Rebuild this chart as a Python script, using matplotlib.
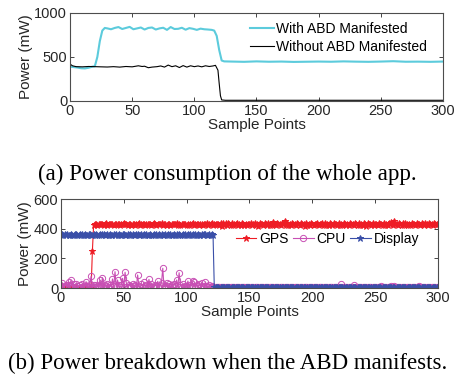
#!/usr/bin/env python
"""Power traces with and without the ABD, plus the per-component breakdown."""

import matplotlib
matplotlib.use("Agg")
import matplotlib.pyplot as plt
import numpy as np

plt.rcParams['font.family'] = ['Liberation Sans', 'DejaVu Sans']

# --- (a) whole app power ---
whole_x = [0, 3, 6, 9, 12, 15, 18, 20, 22, 24, 26, 28, 30, 33, 36, 39, 42, 45, 48,
           51, 54, 57, 60, 63, 66, 69, 72, 75, 78, 81, 84, 87, 90, 93, 96, 99, 102,
           105, 108, 111, 114, 116, 118, 120, 122, 124, 130, 140, 150, 160, 170,
           180, 190, 200, 210, 220, 230, 240, 250, 260, 270, 280, 290, 300]
with_abd = [390, 385, 380, 372, 370, 378, 390, 395, 500, 680, 800, 830, 825, 815,
            830, 840, 818, 830, 842, 815, 825, 835, 812, 830, 835, 812, 825, 832,
            808, 840, 818, 820, 832, 810, 828, 820, 808, 822, 815, 812, 808, 800,
            740, 580, 460, 450, 448, 445, 450, 446, 448, 444, 446, 448, 446, 450,
            447, 445, 448, 452, 446, 447, 445, 448]

without_x = [0, 2, 5, 10, 15, 20, 25, 30, 35, 40, 45, 50, 55, 58, 60, 63, 66, 70,
             73, 76, 79, 82, 85, 88, 91, 94, 97, 100, 103, 106, 109, 112, 115, 117,
             119, 120, 121, 122, 125, 150, 200, 250, 300]
without_abd = [420, 400, 390, 388, 392, 390, 388, 386, 390, 385, 392, 388, 400,
               392, 395, 378, 385, 390, 398, 385, 408, 390, 400, 380, 402, 385,
               400, 390, 398, 388, 400, 392, 398, 405, 350, 200, 60, 12, 8, 8, 8,
               8, 8]

# --- (b) breakdown, one value per sample point (0..300) ---
gps_before = [0] * 25 + [250]
gps_after = [
    428, 432, 430, 426, 434, 431, 429, 433, 427, 430, 435, 428, 431, 429, 433, 430, 426, 432, 434, 429, 431, 427, 433, 430, 436,
    429, 431, 427, 434, 430, 428, 433, 431, 426, 432, 430, 435, 428, 431, 429, 433, 427, 430, 434, 429, 432, 428, 431, 436, 430,
    427, 433, 429, 431, 438, 425, 432, 430, 428, 434, 431, 427, 433, 429, 432, 430, 435, 428, 431, 426, 433, 430, 429, 434, 428,
    431, 427, 433, 430, 436, 428, 432, 429, 431, 426, 434, 430, 428, 433, 431, 438, 424, 432, 429, 435, 427, 431, 433, 429, 430,
    425, 438, 420, 440, 428, 435, 422, 437, 430, 426, 441, 424, 433, 429, 436, 427, 431, 423, 439, 430, 428, 434, 426, 432, 429,
    436, 424, 431, 438, 427, 433, 421, 440, 429, 432, 426, 437, 430, 425, 441, 428, 434, 423, 448, 431, 427, 436, 429, 433, 425,
    438, 430, 452, 422, 436, 428, 433, 426, 440, 429, 431, 424, 437, 430, 427, 435, 429, 433, 421, 439, 428, 432, 426, 436, 430,
    427, 434, 429, 438, 423, 432, 430, 436, 425, 441, 428, 431, 427, 435, 430, 422, 438, 429, 433, 426, 440, 428, 432, 425, 437,
    430, 428, 434, 423, 439, 429, 432, 426, 436, 431, 424, 440, 428, 433, 427, 435, 430, 421, 438, 429, 432, 426, 441, 428, 434,
    430, 425, 437, 429, 433, 422, 440, 428, 431, 427, 436, 430, 448, 424, 452, 429, 433, 426, 438, 430, 428, 435, 423, 439, 431,
    428, 434, 426, 437, 430, 432, 425, 440, 429, 433, 427, 436, 430, 424, 438, 431, 428, 435, 429, 433, 426, 439, 430, 432, 429]

cpu_active = [
    15, 36, 5, 12, 22, 8, 43, 18, 54, 10, 25, 6, 30, 14, 3, 20, 9, 28, 12, 4,
    43, 16, 7, 24, 81, 10, 18, 5, 22, 12, 8, 54, 15, 70, 6, 20, 11, 25, 4, 17,
    9, 61, 13, 110, 7, 54, 19, 5, 23, 65, 10, 106, 34, 8, 21, 14, 4, 26, 11, 18,
    6, 88, 15, 9, 24, 5, 40, 13, 20, 7, 58, 16, 28, 10, 4, 22, 12, 45, 8, 19,
    36, 133, 6, 15, 36, 11, 24, 5, 18, 9, 30, 13, 54, 7, 103, 20, 10, 26, 4, 16,
    12, 47, 8, 22, 14, 50, 43, 6, 19, 11, 25, 9, 36, 15, 5, 40, 12, 8, 18, 6,
    14, 10]
cpu_idle = [
    6, 5, 7, 4, 6, 8, 5, 6, 4, 7, 5, 6, 8, 5, 4, 6, 7, 5, 6, 4,
    5, 7, 6, 4, 5, 8, 6, 5, 10, 6, 4, 7, 5, 6, 5, 8, 4, 6, 7, 5,
    6, 4, 5, 7, 6, 5, 8, 4, 6, 5, 7, 6, 4, 5, 6, 8, 5, 6, 4, 7,
    5, 6, 4, 7, 5, 6, 8, 5, 4, 6, 7, 5, 6, 4, 5, 7, 6, 5, 8, 4,
    6, 5, 7, 4, 6, 5, 8, 6, 4, 5, 7, 6, 5, 4, 6, 8, 5, 7, 6, 5,
    8, 25, 6, 5, 4, 7, 6, 5, 8, 6, 4, 20, 5, 7, 6, 4, 5, 8, 6, 5,
    7, 4, 6, 5, 8, 6, 5, 4, 7, 6, 5, 6, 4, 14, 6, 5, 7, 4, 6, 5,
    8, 12, 6, 15, 5, 7, 4, 6, 5, 8, 6, 4, 7, 5, 6, 5, 8, 4, 6, 5,
    7, 5, 6, 15, 4, 6, 8, 5, 7, 4, 6, 5, 6, 8, 4, 5, 7, 6, 5]

display_on = [
    360, 362, 358, 361, 359, 363, 360, 357, 362, 360, 359, 361, 364, 358, 360, 362, 359, 361, 357, 363, 360, 358, 362, 361, 359,
    360, 363, 358, 361, 360, 357, 362, 359, 361, 364, 358, 360, 362, 359, 361, 360, 356, 363, 359, 361, 358, 362, 360, 359, 361,
    362, 358, 360, 363, 359, 361, 357, 362, 360, 358, 361, 364, 359, 360, 362, 358, 361, 359, 363, 360, 357, 362, 360, 359, 361,
    358, 362, 360, 361, 359, 363, 357, 360, 362, 359, 361, 358, 366, 360, 359, 362, 358, 361, 360, 363, 359, 357, 362, 360, 361,
    359, 362, 358, 361, 360, 363, 357, 362, 359, 361, 360, 358, 362, 359, 361, 364, 358, 360, 362, 359, 361, 360]
display_off = [
    5, 4, 6, 5, 3, 5, 6, 4, 5, 5, 4, 6, 5, 3, 5, 4, 6, 5, 5, 4,
    6, 5, 4, 5, 3, 6, 5, 4, 5, 6, 4, 5, 5, 3, 6, 4, 5, 5, 4, 6,
    5, 4, 6, 5, 3, 5, 6, 4, 5, 5, 4, 6, 5, 3, 5, 4, 6, 5, 5, 4,
    6, 5, 4, 5, 3, 6, 5, 4, 5, 6, 4, 5, 5, 3, 6, 4, 5, 5, 4, 6,
    5, 4, 6, 5, 3, 5, 6, 4, 5, 5, 4, 6, 5, 3, 5, 4, 6, 5, 5, 4,
    6, 5, 4, 5, 3, 6, 5, 4, 5, 6, 4, 5, 5, 3, 6, 4, 5, 5, 4, 6,
    5, 4, 6, 5, 3, 5, 6, 4, 5, 5, 4, 6, 5, 3, 5, 4, 6, 5, 5, 4,
    6, 5, 4, 5, 3, 6, 5, 4, 5, 6, 4, 5, 5, 3, 6, 4, 5, 5, 4, 6,
    5, 4, 6, 5, 3, 5, 6, 4, 5, 5, 4, 6, 5, 3, 5, 4, 6, 5, 5]

gps = np.array(gps_before + gps_after)
cpu = np.array(cpu_active + cpu_idle)
display = np.array(display_on + display_off)
samples = np.arange(len(gps))

AXIS_GREY = '#4d4d4d'
TEXT_GREY = '#262626'


def style_axes(ax, ylim, yticks):
    ax.set_xlim(0, 300)
    ax.set_ylim(*ylim)
    ax.set_xticks([0, 50, 100, 150, 200, 250, 300])
    ax.set_yticks(yticks)
    ax.tick_params(direction='in', top=True, right=True, length=3, width=0.6,
                   labelsize=10.5, colors=TEXT_GREY, pad=2)
    for sp in ax.spines.values():
        sp.set_color(AXIS_GREY)
        sp.set_linewidth(0.8)
    ax.set_xlabel("Sample Points", fontsize=11, color=TEXT_GREY, labelpad=0)
    ax.set_ylabel("Power (mW)", fontsize=11, color=TEXT_GREY, labelpad=1)


fig = plt.figure(figsize=(4.55, 3.75), dpi=100)

ax1 = fig.add_axes([0.1538, 0.7307, 0.8198, 0.2347])
ax1.plot(whole_x, with_abd, color='#5ccbdc', lw=1.5, label="With ABD Manifested")
ax1.plot(without_x, without_abd, color='black', lw=0.8, label="Without ABD Manifested")
style_axes(ax1, (0, 1000), [0, 500, 1000])
ax1.legend(loc='upper left', bbox_to_anchor=(0.46, 0.99), frameon=False, fontsize=10,
           handlelength=1.7, handletextpad=0.2, labelspacing=0.25,
           borderaxespad=0.2)

ax2 = fig.add_axes([0.134, 0.232, 0.8286, 0.2373])
ax2.plot(samples, gps, '-*', color='#ee1c25', lw=0.8, ms=4.5, mew=0.7, label="GPS")
ax2.plot(samples, cpu, '-o', color='#c84fb4', lw=0.8, ms=4.5, mew=0.7,
         mfc='none', label="CPU")
ax2.plot(samples, display, '-*', color='#3a4fa8', lw=0.8, ms=4.5, mew=0.7, label="Display")
style_axes(ax2, (0, 600), [0, 200, 400, 600])
ax2.legend(loc='center left', bbox_to_anchor=(0.43, 0.55), frameon=False, fontsize=10,
           ncol=3, handlelength=1.5, handletextpad=0.2, columnspacing=0.3)

fig.text(0.5, 1 - 180 / 375, "(a) Power consumption of the whole app.",
         family='Liberation Serif', fontsize=16.5, ha='center', va='baseline')
fig.text(0.5, 1 - 369 / 375, "(b) Power breakdown when the ABD manifests.",
         family='Liberation Serif', fontsize=16.5, ha='center', va='baseline')

fig.savefig("out.png", dpi=100)
